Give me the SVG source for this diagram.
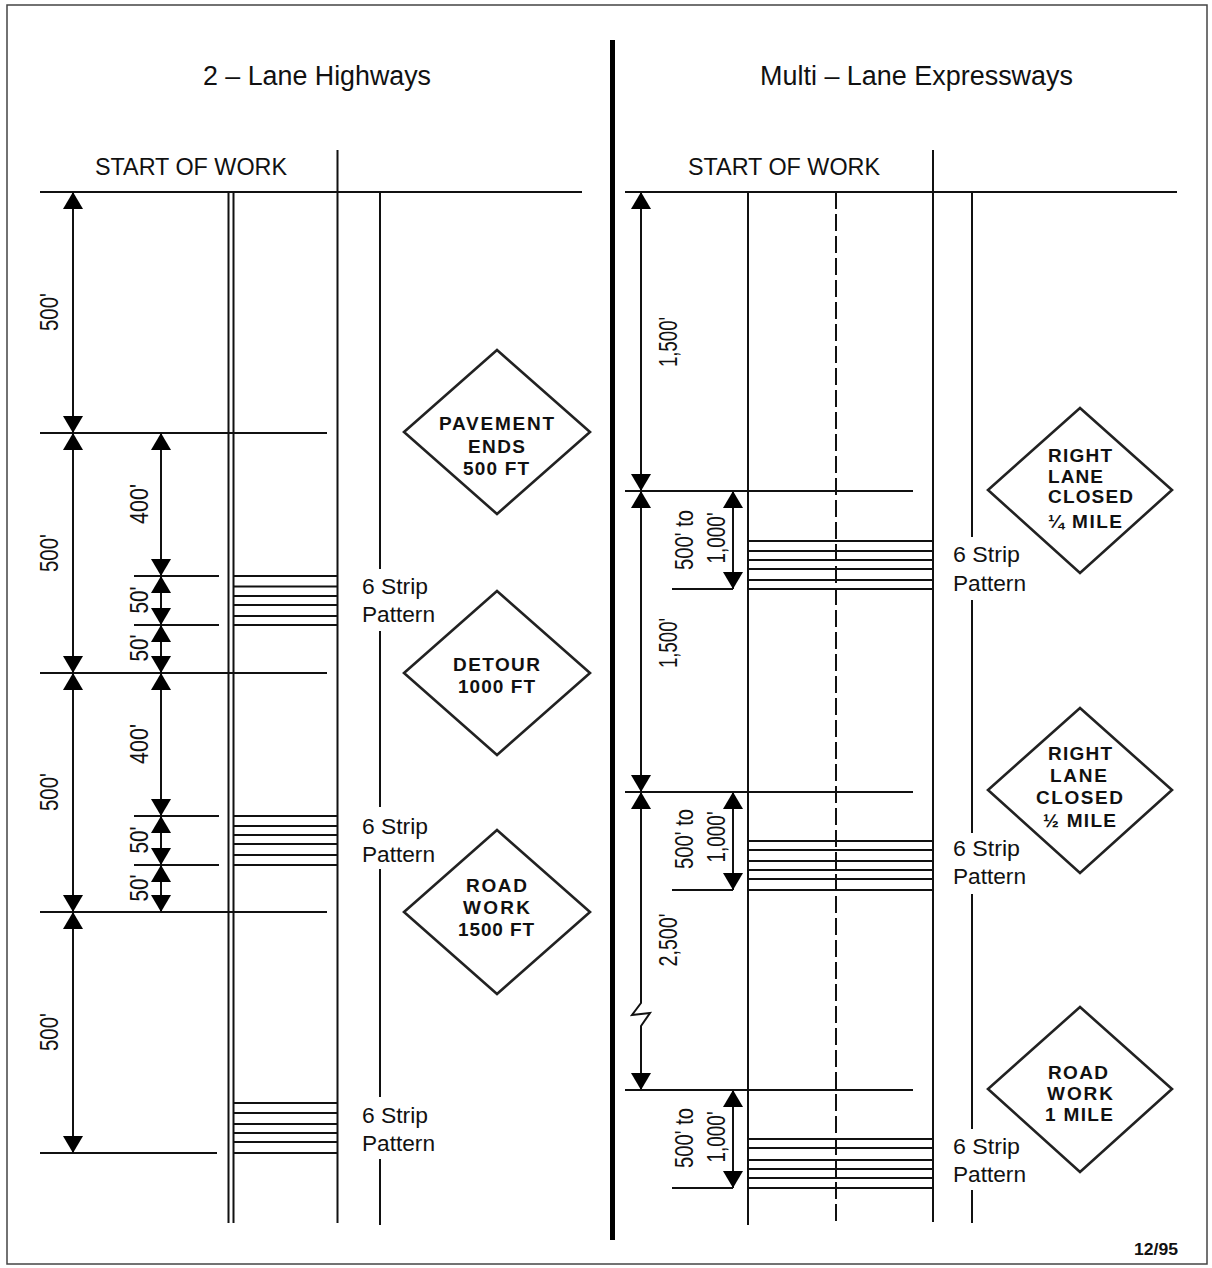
<svg xmlns="http://www.w3.org/2000/svg" width="1212" height="1268" viewBox="0 0 1212 1268">
<defs>
<style>
.ln{stroke:#111;stroke-width:2;fill:none}
.dash{stroke:#111;stroke-width:2;fill:none;stroke-dasharray:17 5}
.dim{stroke:#111;stroke-width:2;fill:none;marker-start:url(#ah);marker-end:url(#ah)}
.sign{fill:#fff;stroke:#222;stroke-width:2.6}
.st{font-family:"Liberation Sans",Arial,sans-serif;font-weight:bold;font-size:19px;fill:#111}
.title{font-family:"Liberation Sans",Arial,sans-serif;font-size:27px;fill:#111;text-anchor:middle}
.sow{font-family:"Liberation Sans",Arial,sans-serif;font-size:23px;fill:#111;text-anchor:middle}
.lab{font-family:"Liberation Sans",Arial,sans-serif;font-size:25px;fill:#111;text-anchor:middle}
.pat{font-family:"Liberation Sans",Arial,sans-serif;font-size:22px;fill:#111}
</style>
<marker id="ah" viewBox="0 0 17 20" refX="17" refY="10" markerWidth="17" markerHeight="20" markerUnits="userSpaceOnUse" orient="auto-start-reverse"><path d="M0,0 L17,10 L0,20 Z" fill="#000"/></marker>
</defs>
<rect x="0" y="0" width="1212" height="1268" fill="#fff"/>
<rect x="7" y="5" width="1200" height="1259" fill="none" stroke="#444" stroke-width="1.5"/>
<line x1="612.5" y1="40" x2="612.5" y2="1240" stroke="#000" stroke-width="5"/>

<g id="titles">
<text class="title" x="317" y="85" textLength="228" lengthAdjust="spacingAndGlyphs">2 – Lane Highways</text>
<text class="title" x="916.5" y="85" textLength="313" lengthAdjust="spacingAndGlyphs">Multi – Lane Expressways</text>
<text class="sow" x="191" y="175" textLength="192" lengthAdjust="spacingAndGlyphs">START OF WORK</text>
<text class="sow" x="784" y="175" textLength="192" lengthAdjust="spacingAndGlyphs">START OF WORK</text>
</g>

<g id="left-road">
<line class="ln" x1="228.5" y1="192" x2="228.5" y2="1223"/>
<line class="ln" x1="233.5" y1="192" x2="233.5" y2="1223"/>
<line class="ln" x1="337.5" y1="150" x2="337.5" y2="1223"/>
<line class="ln" x1="380" y1="192" x2="380" y2="569"/>
<line class="ln" x1="380" y1="631" x2="380" y2="807"/>
<line class="ln" x1="380" y1="869" x2="380" y2="1097"/>
<line class="ln" x1="380" y1="1159" x2="380" y2="1225"/>
<line class="ln" x1="40" y1="192" x2="582" y2="192"/>
<line class="ln" x1="40" y1="433" x2="327" y2="433"/>
<line class="ln" x1="40" y1="673" x2="327" y2="673"/>
<line class="ln" x1="40" y1="912" x2="327" y2="912"/>
<line class="ln" x1="40" y1="1153" x2="217" y2="1153"/>
<line class="ln" x1="134" y1="576" x2="219" y2="576"/>
<line class="ln" x1="134" y1="625" x2="219" y2="625"/>
<line class="ln" x1="134" y1="816" x2="219" y2="816"/>
<line class="ln" x1="134" y1="865" x2="219" y2="865"/>
</g>

<g id="left-strips">
<path class="ln" d="M233,576H338M233,586.5H338M233,596H338M233,605H338M233,616H338M233,625H338"/>
<path class="ln" d="M233,816H338M233,826H338M233,835H338M233,844H338M233,855H338M233,865H338"/>
<path class="ln" d="M233,1103H338M233,1113H338M233,1124H338M233,1133H338M233,1142H338M233,1153H338"/>
<text class="pat" x="362" y="594" textLength="66" lengthAdjust="spacingAndGlyphs">6 Strip</text>
<text class="pat" x="362" y="622" textLength="73" lengthAdjust="spacingAndGlyphs">Pattern</text>
<text class="pat" x="362" y="834" textLength="66" lengthAdjust="spacingAndGlyphs">6 Strip</text>
<text class="pat" x="362" y="862" textLength="73" lengthAdjust="spacingAndGlyphs">Pattern</text>
<text class="pat" x="362" y="1123" textLength="66" lengthAdjust="spacingAndGlyphs">6 Strip</text>
<text class="pat" x="362" y="1151" textLength="73" lengthAdjust="spacingAndGlyphs">Pattern</text>
</g>

<g id="connectors">
<line class="dim" x1="73" y1="192" x2="73" y2="433"/>
<line class="dim" x1="73" y1="433" x2="73" y2="673"/>
<line class="dim" x1="73" y1="673" x2="73" y2="912"/>
<line class="dim" x1="73" y1="912" x2="73" y2="1153"/>
<line class="dim" x1="161" y1="433" x2="161" y2="576"/>
<line class="dim" x1="161" y1="576" x2="161" y2="625"/>
<line class="dim" x1="161" y1="625" x2="161" y2="673"/>
<line class="dim" x1="161" y1="673" x2="161" y2="816"/>
<line class="dim" x1="161" y1="816" x2="161" y2="865"/>
<line class="dim" x1="161" y1="865" x2="161" y2="912"/>
<line class="dim" x1="641" y1="192" x2="641" y2="491"/>
<line class="dim" x1="641" y1="491" x2="641" y2="792"/>
<path class="dim" d="M641,792 L641,1003 L632,1015 L650,1013 L641,1026 L641,1090"/>
<line class="dim" x1="733" y1="491" x2="733" y2="589"/>
<line class="dim" x1="733" y1="792" x2="733" y2="890"/>
<line class="dim" x1="733" y1="1090" x2="733" y2="1188"/>
</g>

<g id="dimension-labels">
<text class="lab" transform="translate(58,312) rotate(-90)" textLength="38" lengthAdjust="spacingAndGlyphs">500'</text>
<text class="lab" transform="translate(58,553) rotate(-90)" textLength="38" lengthAdjust="spacingAndGlyphs">500'</text>
<text class="lab" transform="translate(58,792) rotate(-90)" textLength="38" lengthAdjust="spacingAndGlyphs">500'</text>
<text class="lab" transform="translate(58,1032) rotate(-90)" textLength="38" lengthAdjust="spacingAndGlyphs">500'</text>
<text class="lab" transform="translate(148,504) rotate(-90)" textLength="40" lengthAdjust="spacingAndGlyphs">400'</text>
<text class="lab" transform="translate(148,600) rotate(-90)" textLength="27" lengthAdjust="spacingAndGlyphs">50'</text>
<text class="lab" transform="translate(148,648) rotate(-90)" textLength="27" lengthAdjust="spacingAndGlyphs">50'</text>
<text class="lab" transform="translate(148,744) rotate(-90)" textLength="40" lengthAdjust="spacingAndGlyphs">400'</text>
<text class="lab" transform="translate(148,840) rotate(-90)" textLength="27" lengthAdjust="spacingAndGlyphs">50'</text>
<text class="lab" transform="translate(148,888) rotate(-90)" textLength="27" lengthAdjust="spacingAndGlyphs">50'</text>
<text class="lab" transform="translate(677,342) rotate(-90)" textLength="50" lengthAdjust="spacingAndGlyphs">1,500'</text>
<text class="lab" transform="translate(677,643) rotate(-90)" textLength="50" lengthAdjust="spacingAndGlyphs">1,500'</text>
<text class="lab" transform="translate(677,940) rotate(-90)" textLength="53" lengthAdjust="spacingAndGlyphs">2,500'</text>
<text class="lab" transform="translate(693,540) rotate(-90)" textLength="60" lengthAdjust="spacingAndGlyphs">500' to</text>
<text class="lab" transform="translate(725,538) rotate(-90)" textLength="51" lengthAdjust="spacingAndGlyphs">1,000'</text>
<text class="lab" transform="translate(693,839) rotate(-90)" textLength="60" lengthAdjust="spacingAndGlyphs">500' to</text>
<text class="lab" transform="translate(725,837) rotate(-90)" textLength="51" lengthAdjust="spacingAndGlyphs">1,000'</text>
<text class="lab" transform="translate(693,1138) rotate(-90)" textLength="60" lengthAdjust="spacingAndGlyphs">500' to</text>
<text class="lab" transform="translate(725,1137) rotate(-90)" textLength="51" lengthAdjust="spacingAndGlyphs">1,000'</text>
</g>

<g id="right-road">
<line class="ln" x1="748" y1="192" x2="748" y2="1225"/>
<line class="dash" x1="836" y1="192" x2="836" y2="1222"/>
<line class="ln" x1="933" y1="150" x2="933" y2="1222"/>
<line class="ln" x1="972" y1="192" x2="972" y2="537"/>
<line class="ln" x1="972" y1="600" x2="972" y2="833"/>
<line class="ln" x1="972" y1="894" x2="972" y2="1129"/>
<line class="ln" x1="972" y1="1190" x2="972" y2="1223"/>
<line class="ln" x1="625" y1="192" x2="1177" y2="192"/>
<line class="ln" x1="625" y1="491" x2="913" y2="491"/>
<line class="ln" x1="625" y1="792" x2="913" y2="792"/>
<line class="ln" x1="625" y1="1090" x2="913" y2="1090"/>
<line class="ln" x1="672" y1="589" x2="733" y2="589"/>
<line class="ln" x1="672" y1="890" x2="733" y2="890"/>
<line class="ln" x1="672" y1="1188" x2="733" y2="1188"/>
</g>

<g id="right-strips">
<path class="ln" d="M748,541H933M748,551H933M748,560H933M748,569H933M748,580H933M748,589H933"/>
<path class="ln" d="M748,841H933M748,850H933M748,861H933M748,870H933M748,879H933M748,890H933"/>
<path class="ln" d="M748,1139H933M748,1148H933M748,1160H933M748,1169H933M748,1178H933M748,1188H933"/>
<text class="pat" x="953" y="562" textLength="67" lengthAdjust="spacingAndGlyphs">6 Strip</text>
<text class="pat" x="953" y="591" textLength="73" lengthAdjust="spacingAndGlyphs">Pattern</text>
<text class="pat" x="953" y="856" textLength="67" lengthAdjust="spacingAndGlyphs">6 Strip</text>
<text class="pat" x="953" y="884" textLength="73" lengthAdjust="spacingAndGlyphs">Pattern</text>
<text class="pat" x="953" y="1154" textLength="67" lengthAdjust="spacingAndGlyphs">6 Strip</text>
<text class="pat" x="953" y="1182" textLength="73" lengthAdjust="spacingAndGlyphs">Pattern</text>
</g>

<g id="sign-pavement-ends">
<polygon class="sign" points="497,350 590,432 497,514 404,432"/>
<text class="st" x="439" y="430" textLength="115" lengthAdjust="spacing">PAVEMENT</text>
<text class="st" x="468" y="453" textLength="57" lengthAdjust="spacing">ENDS</text>
<text class="st" x="463" y="475" textLength="66" lengthAdjust="spacing">500 FT</text>
</g>
<g id="sign-detour">
<polygon class="sign" points="497,591 590,673 497,755 404,673"/>
<text class="st" x="453" y="671" textLength="87" lengthAdjust="spacing">DETOUR</text>
<text class="st" x="458" y="693" textLength="77" lengthAdjust="spacing">1000 FT</text>
</g>
<g id="sign-road-work-1500">
<polygon class="sign" points="497,830 590,912 497,994 404,912"/>
<text class="st" x="466" y="892" textLength="61" lengthAdjust="spacing">ROAD</text>
<text class="st" x="463" y="914" textLength="67" lengthAdjust="spacing">WORK</text>
<text class="st" x="458" y="936" textLength="76" lengthAdjust="spacing">1500 FT</text>
</g>

<g id="sign-right-lane-quarter">
<polygon class="sign" points="1080,408 1172,490 1080,573 988,490"/>
<text class="st" x="1048" y="462" textLength="64" lengthAdjust="spacing">RIGHT</text>
<text class="st" x="1048" y="483" textLength="55" lengthAdjust="spacing">LANE</text>
<text class="st" x="1048" y="503" textLength="85" lengthAdjust="spacing">CLOSED</text>
<text class="st" x="1048" y="528" textLength="74" lengthAdjust="spacing">¼ MILE</text>
</g>
<g id="sign-right-lane-half">
<polygon class="sign" points="1080,708 1172,790 1080,873 988,790"/>
<text class="st" x="1048" y="760" textLength="64" lengthAdjust="spacing">RIGHT</text>
<text class="st" x="1050" y="782" textLength="57" lengthAdjust="spacing">LANE</text>
<text class="st" x="1036" y="804" textLength="87" lengthAdjust="spacing">CLOSED</text>
<text class="st" x="1043" y="827" textLength="73" lengthAdjust="spacing">½ MILE</text>
</g>
<g id="sign-road-work-mile">
<polygon class="sign" points="1080,1007 1172,1089 1080,1172 988,1089"/>
<text class="st" x="1048" y="1079" textLength="60" lengthAdjust="spacing">ROAD</text>
<text class="st" x="1047" y="1100" textLength="66" lengthAdjust="spacing">WORK</text>
<text class="st" x="1045" y="1121" textLength="68" lengthAdjust="spacing">1 MILE</text>
</g>

<g id="footer">
<text x="1134" y="1255" font-family="Liberation Sans, Arial, sans-serif" font-weight="bold" font-size="17" fill="#111" textLength="44" lengthAdjust="spacingAndGlyphs">12/95</text>
</g>
</svg>
